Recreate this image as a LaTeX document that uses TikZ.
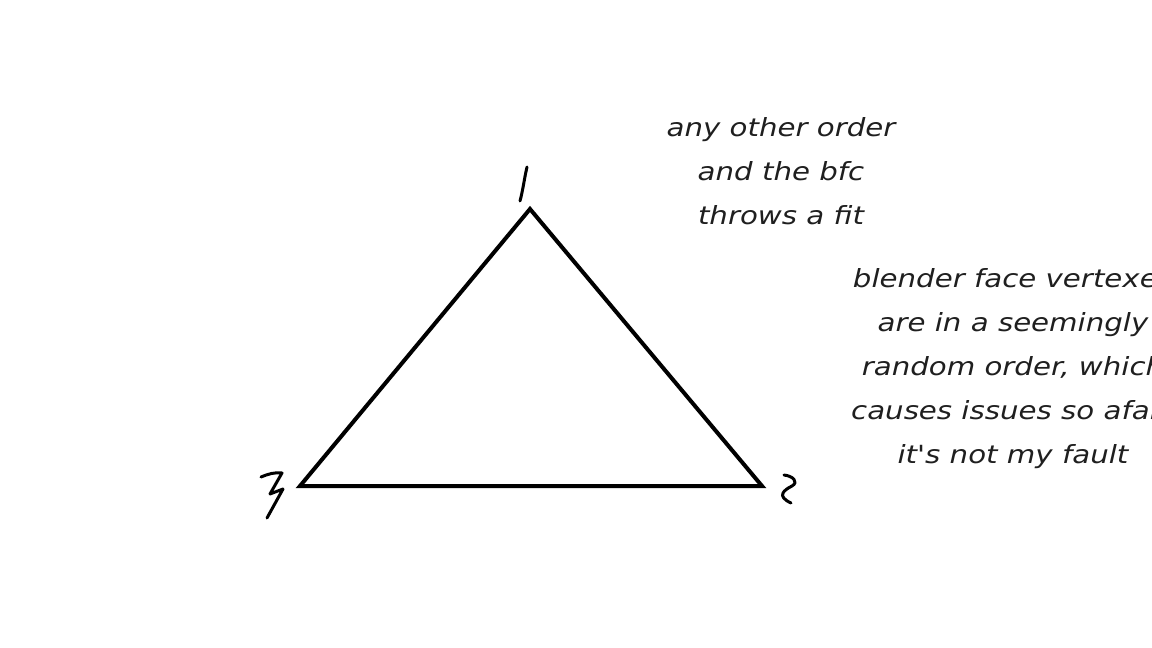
\documentclass[tikz,border=0pt]{standalone}
\usepackage{fontspec}
\setmainfont{DejaVu Sans}[FakeStretch=1.17,Ligatures=TeXOff]
\begin{document}
\begin{tikzpicture}[x=1pt,y=-1pt,
  edge/.style={line width=4pt,line join=miter,line cap=butt},
  pen/.style={line width=3pt,line cap=round,line join=round},
  note/.style={align=center,inner sep=0pt,font=\slshape\fontsize{25}{44}\selectfont,text=black!88}]
\useasboundingbox (0,0) rectangle (1152,648);
\clip (0,0) rectangle (1152,648);
\coordinate (v1) at (530,209);
\coordinate (v2) at (762,486);
\coordinate (v3) at (300,486);
\draw[edge] (v1) -- (v2) -- (v3) -- cycle;
% handwritten 1
\draw[pen] (527,167) .. controls (524,180) and (523,190) .. (520,201);
% handwritten 2
\draw[pen] (784,475) .. controls (793,476) and (799,482) .. (792,486)
  .. controls (784,490) and (776,496) .. (791,503);
% handwritten 3
\draw[pen] (261,477) .. controls (268,474) and (275,472) .. (282,473)
  -- (270,494) -- (283,489) -- (267,518);
\node[note] (n1) at (781,171) {any other order\\and the bfc\\throws a fit};
\node[note] (n2) at (1013,369) {blender face vertexes\\are in a seemingly\\random order, which\\causes issues so afaik\\it's not my fault};
\end{tikzpicture}
\end{document}
